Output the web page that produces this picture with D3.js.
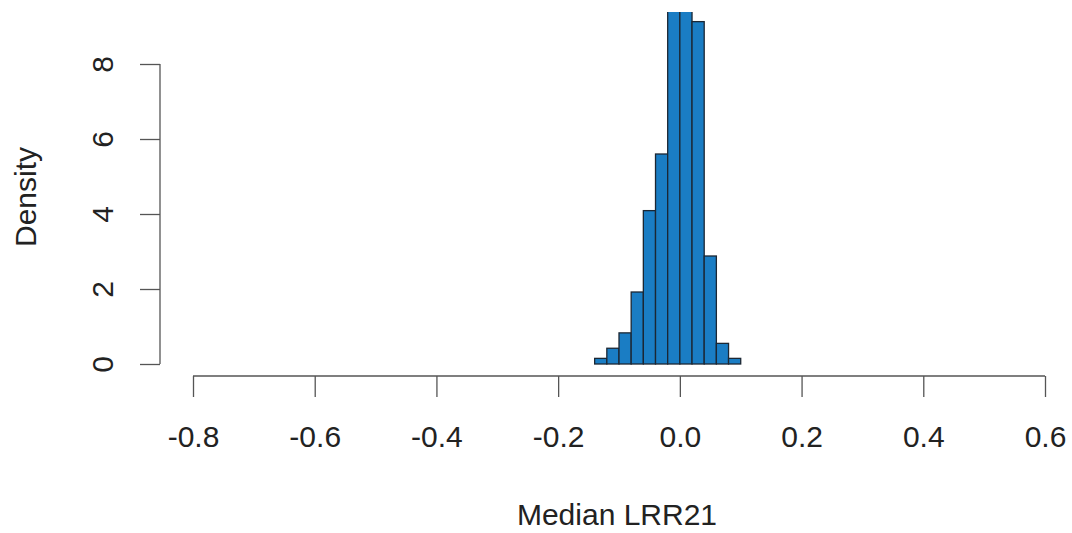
<!DOCTYPE html>
<html>
<head>
<meta charset="utf-8">
<script src="https://cdn.jsdelivr.net/npm/d3@7"></script>
<style>
  body { margin: 0; background: #fff; }
  svg { display: block; font-family: "Liberation Sans", Arial, sans-serif; }
</style>
</head>
<body>
<svg id="chart" width="1072" height="533"></svg>
<script>
// histogram bins (left edges) and densities, bin width 0.02
const binStarts = [-0.14, -0.12, -0.10, -0.08, -0.06, -0.04, -0.02, 0.00, 0.02, 0.04, 0.06, 0.08];
const densities = [0.15, 0.42, 0.83, 1.92, 4.09, 5.6, 12.2, 12.1, 9.13, 2.88, 0.55, 0.15];
const BIN_WIDTH = 0.02;
const xTicks = [-0.8, -0.6, -0.4, -0.2, 0.0, 0.2, 0.4, 0.6];
const yTicks = [0, 2, 4, 6, 8];
const xTitle = "Median LRR21";
const yTitle = "Density";

const AXIS_COLOR = "#555";
const TEXT_COLOR = "#222";
const FONT_SIZE = 30;

const svg = d3.select("#chart");

const x = d3.scaleLinear().domain([-0.8, 0.6]).range([193, 1045]);
const y = d3.scaleLinear().domain([0, 8]).range([364, 64]);

// plot region clip (top of plot is cut off in the picture)
svg.append("defs").append("clipPath").attr("id", "plotClip")
    .append("rect").attr("x", 0).attr("y", 12).attr("width", 1072).attr("height", 400);

const bars = binStarts.map((b, i) => ({ x0: b, x1: b + BIN_WIDTH, d: densities[i] }));

svg.append("g").attr("clip-path", "url(#plotClip)")
    .selectAll("rect")
    .data(bars)
    .join("rect")
    .attr("x", d => x(d.x0))
    .attr("width", d => x(d.x1) - x(d.x0))
    .attr("y", d => y(d.d))
    .attr("height", d => y(0) - y(d.d))
    .attr("fill", "#1a7dc4")
    .attr("stroke", "#1c2733")
    .attr("stroke-width", 1.3);

// R style labels use a plain hyphen for negatives
const fmt1 = d => d3.format(".1f")(d).replace("\u2212", "-");

// x axis
const xAxis = d3.axisBottom(x).tickValues(xTicks).tickSize(21).tickFormat(fmt1);
const gx = svg.append("g").attr("transform", "translate(0,376)").call(xAxis);
gx.select(".domain").attr("stroke", AXIS_COLOR).attr("stroke-width", 1.3)
    .attr("d", `M${x(-0.8)},0H${x(0.6)}`);
gx.selectAll(".tick line").attr("stroke", AXIS_COLOR).attr("stroke-width", 1.3);
gx.selectAll(".tick text")
    .attr("fill", TEXT_COLOR)
    .attr("font-size", FONT_SIZE)
    .attr("font-family", "Liberation Sans, Arial, sans-serif")
    .attr("dy", 0)
    .attr("y", 71);

// y axis
const yAxis = d3.axisLeft(y).tickValues(yTicks).tickSize(20).tickFormat(d3.format("d"));
const gy = svg.append("g").attr("transform", "translate(160,0)").call(yAxis);
gy.select(".domain").attr("stroke", AXIS_COLOR).attr("stroke-width", 1.3)
    .attr("d", `M0,${y(0)}V${y(8)}`);
gy.selectAll(".tick line").attr("stroke", AXIS_COLOR).attr("stroke-width", 1.3);
gy.selectAll(".tick text")
    .attr("fill", TEXT_COLOR)
    .attr("font-size", FONT_SIZE)
    .attr("font-family", "Liberation Sans, Arial, sans-serif")
    .attr("x", 0).attr("dy", 0)
    .attr("text-anchor", "middle")
    .attr("transform", "translate(-47,0) rotate(-90)");

// titles
svg.append("text")
    .attr("x", 617).attr("y", 525)
    .attr("text-anchor", "middle")
    .attr("font-size", FONT_SIZE)
    .attr("fill", TEXT_COLOR)
    .text(xTitle);

svg.append("text")
    .attr("transform", "translate(36,197) rotate(-90)")
    .attr("text-anchor", "middle")
    .attr("font-size", FONT_SIZE)
    .attr("fill", TEXT_COLOR)
    .text(yTitle);
</script>
</body>
</html>
